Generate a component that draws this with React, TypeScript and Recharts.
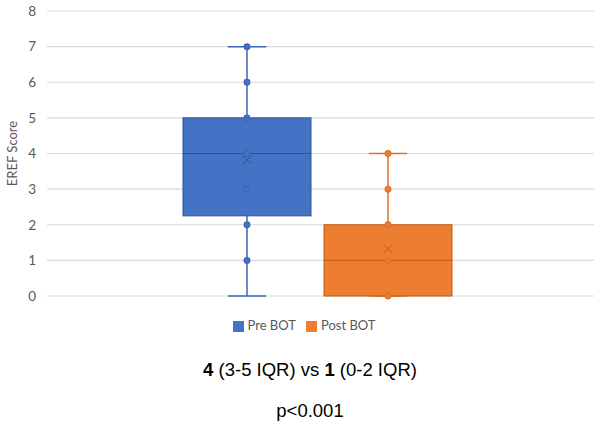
import React from "react";
import {
  Bar,
  CartesianGrid,
  ComposedChart,
  Legend,
  XAxis,
  YAxis,
} from "recharts";

const groups = ["Pre BOT", "Post BOT"];
const mins = [0, 0];
const q1s = [2.25, 0];
const medians = [4, 1];
const q3s = [5, 2];
const maxs = [7, 4];
const means = [3.82, 1.33];
const prePoints = [1, 2, 3, 4, 5, 6, 7];
const postPoints = [0, 1, 2, 3, 4];
const points = [prePoints, postPoints];
const yTicks = [0, 1, 2, 3, 4, 5, 6, 7, 8];

const fills = ["#4472C4", "#ED7D31"];
const lines = ["#3D67B8", "#E0702A"];
const darks = ["#2F528F", "#C55A11"];

const row: Record<string, any> = { name: "" };
groups.forEach((g, i) => {
  row["s" + i] = [q1s[i], q3s[i]];
});
const data = [row];

function BoxShape(props: any) {
  const { x, y, width, height, i } = props;
  const top = Math.min(y, y + height);
  const h = Math.abs(height);
  const per = h / (q3s[i] - q1s[i]);
  const yOf = (v: number) => top + h - (v - q1s[i]) * per;
  const cx = x + width / 2;
  const cap = width * 0.15;
  const my = yOf(means[i]);
  return (
    <g>
      <line x1={cx} x2={cx} y1={yOf(mins[i])} y2={yOf(maxs[i])} stroke={lines[i]} strokeWidth={1.5} />
      <line x1={cx - cap} x2={cx + cap} y1={yOf(mins[i])} y2={yOf(mins[i])} stroke={lines[i]} strokeWidth={1.5} />
      <line x1={cx - cap} x2={cx + cap} y1={yOf(maxs[i])} y2={yOf(maxs[i])} stroke={lines[i]} strokeWidth={1.5} />
      <rect x={x} y={top} width={width} height={h} fill={fills[i]} stroke={darks[i]} strokeWidth={1} />
      <line x1={x} x2={x + width} y1={yOf(medians[i])} y2={yOf(medians[i])} stroke={darks[i]} strokeWidth={1} />
      {points[i].map((v, k) => (
        <circle key={k} cx={cx} cy={yOf(v)} r={2.8} fill={fills[i]} stroke={lines[i]} strokeWidth={1.3} />
      ))}
      <path
        d={`M${cx - 4.5},${my - 4.5}L${cx + 4.5},${my + 4.5}M${cx - 4.5},${my + 4.5}L${cx + 4.5},${my - 4.5}`}
        stroke={darks[i]}
        strokeWidth={1}
        fill="none"
      />
    </g>
  );
}

export default function App() {
  return (
    <div
      style={{
        position: "absolute",
        left: 0,
        top: 0,
        width: 601,
        height: 426,
        background: "#fff",
        fontFamily: "Lato, 'Open Sans', sans-serif",
      }}
    >
      <ComposedChart
        width={601}
        height={345}
        data={data}
        margin={{ top: 11, right: 7, bottom: 0, left: 0 }}
        barGap={13}
      >
        <CartesianGrid horizontal vertical={false} stroke="#d9d9d9" strokeWidth={1.2} />
        <XAxis dataKey="name" hide padding={{ left: 0, right: 7 }} />
        <YAxis
          domain={[0, 8]}
          ticks={yTicks}
          width={47}
          axisLine={false}
          tickLine={false}
          tickMargin={5}
          tick={{ fontSize: 13.5, fill: "#595959" }}
          label={{
            value: "EREF Score",
            angle: -90,
            position: "insideLeft",
            offset: 12,
            style: { textAnchor: "middle", fontSize: 13, fill: "#595959" },
          }}
        />
        <Legend
          verticalAlign="bottom"
          height={49}
          iconType="square"
          iconSize={11}
          itemSorter="dataKey"
          wrapperStyle={{ top: 317, left: 12, fontSize: 13 }}
          formatter={(v) => <span style={{ color: "#595959" }}>{v}</span>}
        />
        {groups.map((g, i) => (
          <Bar
            key={g}
            dataKey={"s" + i}
            name={g}
            fill={fills[i]}
            barSize={128}
            legendType="square"
            isAnimationActive={false}
            shape={(p: any) => <BoxShape {...p} i={i} />}
          />
        ))}
      </ComposedChart>
      <div
        style={{
          position: "absolute",
          left: 0,
          top: 359,
          width: 620,
          textAlign: "center",
          fontFamily: "'Liberation Sans', Arial, sans-serif",
          fontSize: 18.5,
          color: "#000",
        }}
      >
        <b>4</b> (3-5 IQR) vs <b>1</b> (0-2 IQR)
      </div>
      <div
        style={{
          position: "absolute",
          left: 0,
          top: 400,
          width: 620,
          textAlign: "center",
          fontFamily: "'Liberation Sans', Arial, sans-serif",
          fontSize: 18.5,
          color: "#000",
        }}
      >
        p&lt;0.001
      </div>
    </div>
  );
}
